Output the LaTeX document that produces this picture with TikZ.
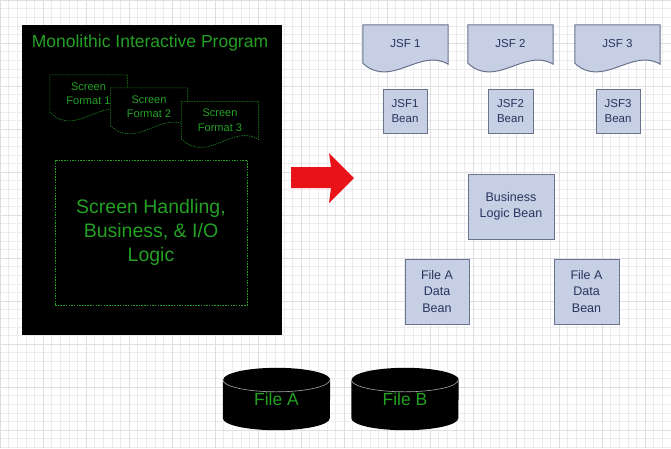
\documentclass[tikz,border=0pt]{standalone}
\usepackage{fontspec}
\setmainfont{Liberation Sans}
\usetikzlibrary{calc}
\definecolor{mgreen}{RGB}{36,160,36}
\definecolor{bfill}{RGB}{198,207,227}
\definecolor{bdraw}{RGB}{105,115,140}
\definecolor{btext}{RGB}{40,52,95}
\definecolor{gridminor}{RGB}{236,236,240}
\definecolor{gridmajor}{RGB}{222,222,228}
\definecolor{ared}{RGB}{232,18,24}
\pgfdeclarelayer{bgzero}
\pgfdeclarelayer{bgone}
\pgfsetlayers{bgzero,bgone,main}
\newcommand{\docpath}[2]{%
  \path[#2] (#1.north west) -- (#1.north east) -- ($(#1.south east)+(0pt,-1pt)$)
    .. controls ($(#1.south east)!0.33!(#1.south west)+(0pt,16pt)$) and ($(#1.south east)!0.67!(#1.south west)+(0pt,-26pt)$) .. (#1.south west) -- cycle;}
\newcommand{\cylpath}[1]{%
  \fill[black] ($(#1.north west)+(0pt,-12pt)$) -- ($(#1.south west)+(0pt,12pt)$)
    arc[start angle=180, end angle=360, x radius=53.5pt, y radius=12pt]
    -- ($(#1.north east)+(0pt,-12pt)$)
    arc[start angle=0, end angle=180, x radius=53.5pt, y radius=12pt] -- cycle;
  \draw[gray!70, line width=0.6pt] ($(#1.north west)+(0pt,-12pt)$)
    arc[start angle=180, end angle=360, x radius=53.5pt, y radius=12pt];}
\tikzset{
  panel/.style={fill=black, minimum width=260pt, minimum height=310pt, inner sep=0pt},
  titletext/.style={text=mgreen, font=\fontsize{17.5}{20}\selectfont, inner sep=0pt},
  sfdoc/.style={minimum width=77pt, minimum height=37pt, inner sep=0pt, align=center,
    text=mgreen, font=\fontsize{11}{14.5}\selectfont},
  sfline/.style={fill=black, draw=mgreen!85!black, line width=0.6pt, dash pattern=on 1.5pt off 1pt},
  logicbox/.style={draw=mgreen, line width=1pt, dash pattern=on 1.5pt off 1.2pt,
    minimum width=192pt, minimum height=145pt, align=center, text=mgreen,
    font=\fontsize{19.5}{24}\selectfont},
  jsfdoc/.style={minimum width=85pt, minimum height=38pt, inner sep=0pt, text=btext,
    font=\fontsize{11.5}{13}\selectfont},
  jsfline/.style={fill=bfill, draw=bdraw, line width=1pt},
  bean/.style={fill=bfill, draw=bdraw, line width=1pt, inner sep=0pt, align=center,
    text=btext, font=\fontsize{11.5}{15}\selectfont},
  cylnode/.style={minimum width=107pt, minimum height=62pt, inner sep=0pt, text=mgreen,
    font=\fontsize{17.5}{20}\selectfont},
}
\begin{document}
\begin{tikzpicture}[x=1pt, y=-1pt]
\useasboundingbox (0,0) rectangle (671,448);
\begin{pgfonlayer}{bgzero}
  \fill[white] (0,0) rectangle (671,448);
  \draw[gridminor, line width=0.6pt, step=8.6pt] (0,448) grid (671,0);
  \draw[gridmajor, line width=0.8pt, step=43pt] (0,448) grid (671,0);
  \node[panel] (mono) at (152,180) {};
\end{pgfonlayer}

\node[titletext] (title) at (150,43) {Monolithic Interactive Program};

\node[sfdoc] (sf1) at (88.5,93.5) {Screen\\Format 1};
\node[sfdoc] (sf2) at (149,106.5) {Screen\\Format 2};
\node[sfdoc] (sf3) at (220,120) {Screen\\Format 3};
\begin{pgfonlayer}{bgone}
  \docpath{sf1}{sfline}
  \docpath{sf2}{sfline}
  \docpath{sf3}{sfline}
\end{pgfonlayer}

\node[logicbox] (logic) at (151,232.5) {Screen Handling,\\Business, \& I/O\\Logic};

\fill[ared] (291,167) coordinate (arrowtail) -- (331,167) -- (329,153) -- (354,178)
  -- (329,203) -- (331,188) -- (291,188) -- cycle;

\node[jsfdoc] (jsf1) at (405.5,44) {JSF 1};
\node[jsfdoc] (jsf2) at (510.5,44) {JSF 2};
\node[jsfdoc] (jsf3) at (617.5,44) {JSF 3};
\begin{pgfonlayer}{bgone}
  \docpath{jsf1}{jsfline}
  \docpath{jsf2}{jsfline}
  \docpath{jsf3}{jsfline}
\end{pgfonlayer}

\node[bean, minimum width=44pt, minimum height=44pt] (b1) at (405,111) {JSF1\\Bean};
\node[bean, minimum width=45pt, minimum height=44pt] (b2) at (510.5,111) {JSF2\\Bean};
\node[bean, minimum width=44pt, minimum height=44pt] (b3) at (618,111) {JSF3\\Bean};

\node[bean, minimum width=86pt, minimum height=65pt, font=\fontsize{12.5}{15.5}\selectfont] (blb) at (511,206.5) {Business\\Logic Bean};
\node[bean, minimum width=64pt, minimum height=65pt, font=\fontsize{12.5}{16.5}\selectfont] (fda1) at (437,291.5) {File A\\Data\\Bean};
\node[bean, minimum width=65pt, minimum height=65pt, font=\fontsize{12.5}{16.5}\selectfont] (fda2) at (586.5,291.5) {File A\\Data\\Bean};

\node[cylnode] (filea) at (276.5,399) {\raisebox{-4pt}{File A}};
\node[cylnode] (fileb) at (405,399) {\raisebox{-4pt}{File B}};
\begin{pgfonlayer}{bgone}
  \cylpath{filea}
  \cylpath{fileb}
\end{pgfonlayer}
\end{tikzpicture}
\end{document}
